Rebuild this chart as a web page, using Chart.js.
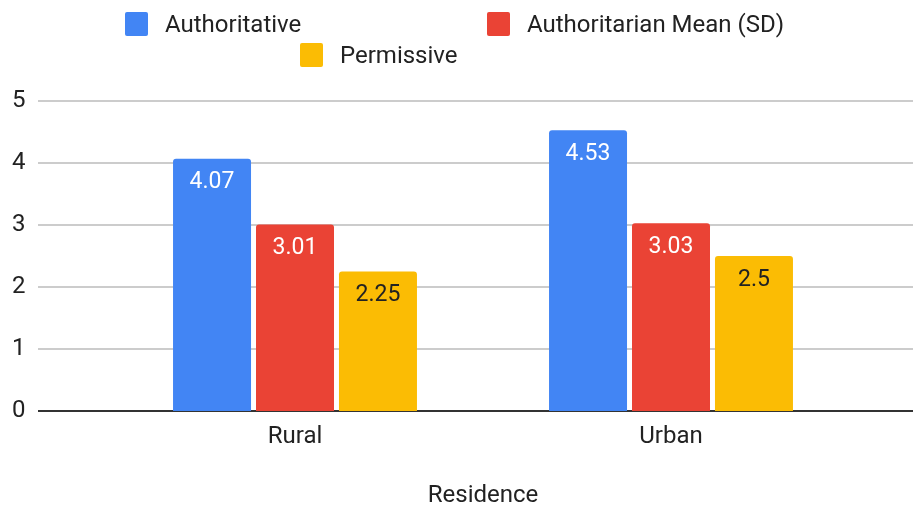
<!DOCTYPE html>
<html>
<head>
<meta charset="utf-8">
<script src="https://cdn.jsdelivr.net/npm/chart.js@4"></script>
<style>
  body { margin: 0; background: #fff; font-family: Roboto, sans-serif; }
  #wrap { position: relative; width: 913px; height: 510px; }
  #legend { position: absolute; left: 0; top: 0; width: 913px; height: 80px; }
  .legendItem { position: absolute; display: flex; align-items: center; height: 24px; color: #222; font-size: 24px; white-space: nowrap; }
  .legendBox { width: 23px; height: 24px; border-radius: 2px; margin-right: 17px; }
</style>
</head>
<body>
<div id="wrap">
  <div id="legend"></div>
  <canvas id="barChart" width="913" height="510"></canvas>
</div>
<script>
// Data for the chart
const residences = ['Rural', 'Urban'];
const seriesNames = ['Authoritative', 'Authoritarian Mean (SD)', 'Permissive'];
const authoritative = [4.07, 4.53];
const authoritarian = [3.01, 3.03];
const permissive = [2.25, 2.5];
const yTicks = [0, 1, 2, 3, 4, 5];

const seriesColors = ['#4285f4', '#ea4335', '#fbbc04'];
const labelColors = ['#ffffff', '#ffffff', '#222222'];
// where each legend entry sits (two on first row, one on second)
const legendSlots = [{ left: 125, top: 12 }, { left: 487, top: 12 }, { left: 300, top: 43 }];

const ctx = document.getElementById('barChart').getContext('2d');

// Long gridlines + dark baseline, drawn under the bars
const gridPlugin = {
    id: 'longGrid',
    beforeDatasetsDraw(chart) {
        const y = chart.scales.y;
        const c = chart.ctx;
        c.save();
        yTicks.forEach(t => {
            const py = Math.round(y.getPixelForValue(t));
            c.beginPath();
            c.strokeStyle = t === 0 ? '#333333' : '#cccccc';
            c.lineWidth = 2;
            c.moveTo(38, py);
            c.lineTo(chart.width, py);
            c.stroke();
        });
        c.restore();
    }
};

// Value labels inside the top of each bar
const valueLabels = {
    id: 'valueLabels',
    afterDatasetsDraw(chart) {
        const c = chart.ctx;
        c.save();
        c.font = '23px Roboto';
        c.textAlign = 'center';
        c.textBaseline = 'middle';
        chart.data.datasets.forEach((ds, i) => {
            const meta = chart.getDatasetMeta(i);
            c.fillStyle = labelColors[i];
            meta.data.forEach((bar, j) => {
                c.fillText(String(ds.data[j]), bar.x, bar.y + 24);
            });
        });
        c.restore();
    }
};

const data = {
    labels: residences,
    datasets: [authoritative, authoritarian, permissive].map((values, i) => ({
        label: seriesNames[i],
        data: values,
        backgroundColor: seriesColors[i],
        borderRadius: { topLeft: 3, topRight: 3 },
        borderSkipped: 'start',
        categoryPercentage: 0.662,
        barPercentage: 0.94
    }))
};

const config = {
    type: 'bar',
    data: data,
    options: {
        responsive: false,
        devicePixelRatio: 1,
        animation: false,
        layout: {
            padding: { left: 12, top: 101, right: 54, bottom: 0 }
        },
        plugins: {
            legend: { display: false },
            tooltip: { enabled: false }
        },
        scales: {
            x: {
                grid: { display: false, drawTicks: false },
                border: { display: false },
                ticks: {
                    color: '#222222',
                    padding: 12,
                    font: { family: 'Roboto', size: 24 }
                },
                title: {
                    display: true,
                    text: 'Residence',
                    color: '#222222',
                    font: { family: 'Roboto', size: 24 },
                    padding: { top: 0, bottom: 0 }
                },
                afterFit: scale => { scale.height = 99; }
            },
            y: {
                min: 0,
                max: 5,
                grid: { display: false, drawTicks: false },
                border: { display: false },
                afterBuildTicks: scale => {
                    scale.ticks = yTicks.map(v => ({ value: v }));
                },
                ticks: {
                    color: '#222222',
                    crossAlign: 'far',
                    font: { family: 'Roboto', size: 24 }
                },
                afterFit: scale => { scale.width = 95; }
            }
        }
    },
    plugins: [gridPlugin, valueLabels]
};

const barChart = new Chart(ctx, config);

// HTML legend built from the datasets
const legendDiv = document.getElementById('legend');
barChart.data.datasets.forEach((ds, i) => {
    const item = document.createElement('div');
    item.className = 'legendItem';
    item.style.left = legendSlots[i].left + 'px';
    item.style.top = legendSlots[i].top + 'px';
    const box = document.createElement('span');
    box.className = 'legendBox';
    box.style.background = ds.backgroundColor;
    const text = document.createElement('span');
    text.textContent = ds.label;
    item.appendChild(box);
    item.appendChild(text);
    legendDiv.appendChild(item);
});
</script>
</body>
</html>
